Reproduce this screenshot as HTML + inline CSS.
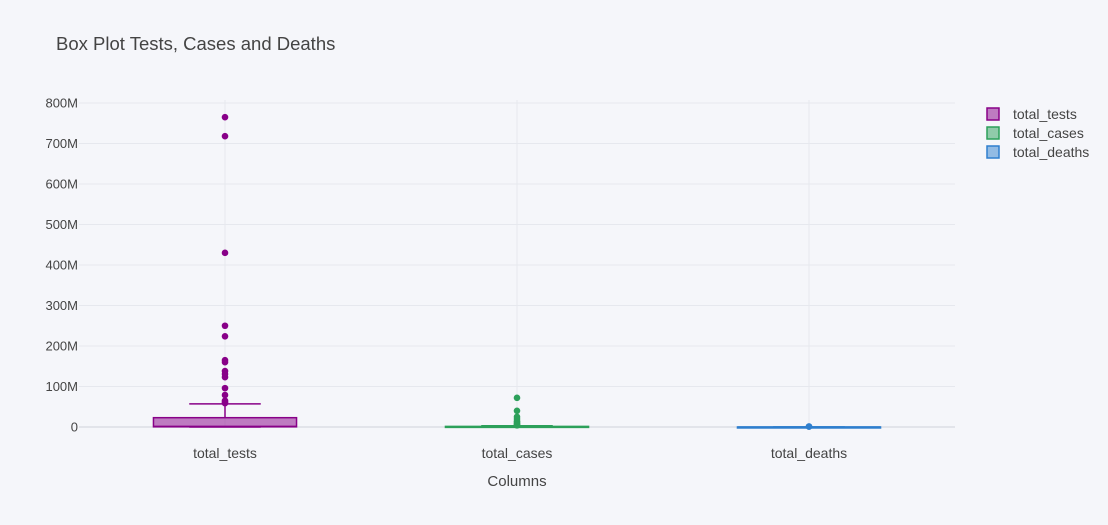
<!DOCTYPE html>
<html><head><meta charset="utf-8"><style>
body{margin:0;background:#f5f6fa;}
svg{display:block;font-family:"Liberation Sans",sans-serif;}
</style></head><body>
<svg id="chart" width="1108" height="525">
<rect width="1108" height="525" fill="#f5f6fa"/>
<text x="56" y="50" font-size="18.5" fill="#444">Box Plot Tests, Cases and Deaths</text>
<g id="grid"></g><g id="marks"></g><g id="axes"></g>
<text x="517" y="486" font-size="15" fill="#444" text-anchor="middle">Columns</text>
<g id="legend"></g>
</svg>
<script>
const categories=["total_tests","total_cases","total_deaths"];
const colors=["#880088","#2ca05a","#2f7fce"];
const fills=["rgba(136,0,136,0.5)","rgba(44,160,90,0.5)","rgba(47,127,206,0.5)"];
const q1=[0.5,0.05,0.002];
const medians=[1.5,0.3,0.01];
const q3=[23,1.5,0.05];
const lowerWhisker=[0,0,0];
const upperWhisker=[57,3,0.1];
const outliersTests=[765,718,430,250,224,165,160,138,131,123,96,79,65,62,59];
const outliersCases=[72,40,25,20,15,12,9,7,5,4];
const outliersDeaths=[1.2,1.0];
const outliers=[outliersTests,outliersCases,outliersDeaths];
const yTicks=[0,100,200,300,400,500,600,700,800];
const yTickLabels=["0","100M","200M","300M","400M","500M","600M","700M","800M"];

const NS="http://www.w3.org/2000/svg";
const left=79,right=955,y0=427,pxPer=0.405;
const band=(right-left)/categories.length;
const xc=i=>left+band*(i+0.5);
const y=v=>y0-v*pxPer;
function mk(tag,attrs,parent){const e=document.createElementNS(NS,tag);for(const k in attrs)e.setAttribute(k,attrs[k]);document.getElementById(parent).appendChild(e);return e;}
yTicks.forEach((t,i)=>{
  const l=mk('line',{x1:left,x2:right,y1:y(t),y2:y(t),stroke:t===0?'#e2e4ea':'#e6e8ee','stroke-width':t===0?2:1},'grid');
  
  
  const tx=mk('text',{x:left-1,y:y(t)+4.5,'font-size':13,fill:'#444','text-anchor':'end'},'axes');
  tx.textContent=yTickLabels[i];
  
  
});
categories.forEach((c,i)=>{
  const l=mk('line',{x1:xc(i),x2:xc(i),y1:100,y2:y0,stroke:'#e6e8ee'},'grid');
  
  
  const tx=mk('text',{x:xc(i),y:458,'font-size':14,fill:'#444','text-anchor':'middle'},'axes');
  tx.textContent=c;
  
  
  const bw=band*0.49,cw=bw/2,cx=xc(i);
  const g=mk('g',{},'marks');
  
  
  const add=(t,a)=>{const e=document.createElementNS(NS,t);for(const k in a)e.setAttribute(k,a[k]);g.appendChild(e);return e;};
  add('line',{x1:cx,x2:cx,y1:y(q3[i]),y2:y(upperWhisker[i]),stroke:colors[i],'stroke-width':1.5});
  add('line',{x1:cx,x2:cx,y1:y(q1[i]),y2:y(lowerWhisker[i]),stroke:colors[i],'stroke-width':1.5});
  add('line',{x1:cx-cw/2,x2:cx+cw/2,y1:y(upperWhisker[i]),y2:y(upperWhisker[i]),stroke:colors[i],'stroke-width':1.5});
  add('line',{x1:cx-cw/2,x2:cx+cw/2,y1:y(lowerWhisker[i]),y2:y(lowerWhisker[i]),stroke:colors[i],'stroke-width':1.5});
  add('rect',{x:cx-bw/2,y:y(q3[i]),width:bw,height:Math.max(1,y(q1[i])-y(q3[i])),fill:fills[i],stroke:colors[i],'stroke-width':1.5});
  add('line',{x1:cx-bw/2,x2:cx+bw/2,y1:y(medians[i]),y2:y(medians[i]),stroke:colors[i],'stroke-width':1.5});
  outliers[i].forEach(v=>{
    const p=mk('circle',{cx:cx,cy:y(v),r:3.3,fill:colors[i]},'marks');
    
    
  });
  const ly=114+i*19;
  const lg=mk('g',{},'legend');
  
  
  const r=document.createElementNS(NS,'rect');
  r.setAttribute('x',987);r.setAttribute('y',ly-6);r.setAttribute('width',12);r.setAttribute('height',12);
  r.setAttribute('fill',fills[i]);r.setAttribute('stroke',colors[i]);r.setAttribute('stroke-width',1.5);
  lg.appendChild(r);
  const t=document.createElementNS(NS,'text');
  t.setAttribute('x',1013);t.setAttribute('y',ly+5);t.setAttribute('font-size',14);t.setAttribute('fill','#444');
  t.textContent=c;lg.appendChild(t);
});
</script>
</body></html>
